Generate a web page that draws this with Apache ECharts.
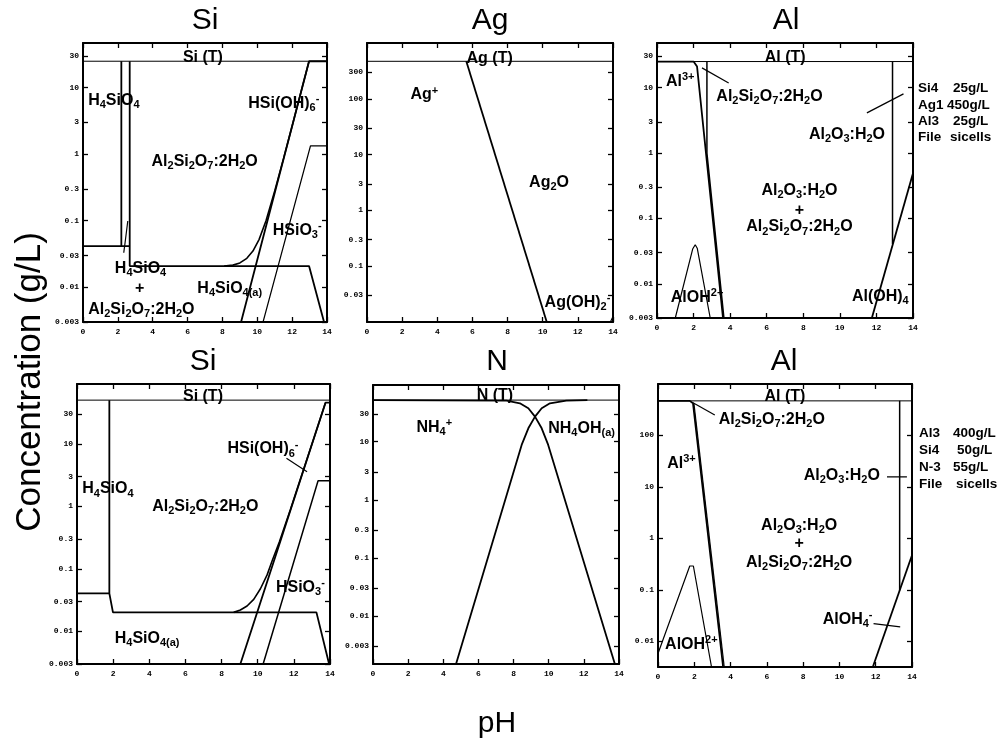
<!DOCTYPE html>
<html>
<head>
<meta charset="utf-8">
<script src="https://cdn.jsdelivr.net/npm/echarts@6.0.0/dist/echarts.min.js"></script>
<style>
html,body{margin:0;padding:0;background:#fff;}
#chart{width:1003px;height:746px;}
</style>
</head>
<body>
<div id="chart"></div>
<script>
// ---------------- DATA ----------------
// tick labels (concentration, g/L)
const ticksHalfDecade = [0.003, 0.01, 0.03, 0.1, 0.3, 1, 3, 10, 30];
const ticksAg = [0.03, 0.1, 0.3, 1, 3, 10, 30, 100, 300];
const ticksDecade = [0.01, 0.1, 1, 10, 100];
const pHRange = [0, 14];

// axis ranges (concentration, g/L)
const rangeSi25 = [0.003, 47];
const rangeAg450 = [0.01, 1000];
const rangeAl25 = [0.003, 48];
const rangeSi50 = [0.003, 90.6];
const rangeN55 = [0.00149, 94.6];
const rangeAl400 = [0.00316, 1000];

// Panel 1 : Si, 25 g/L
const si1Total = [[0, 25], [14, 25]];
const si1Floor = [[0, 0.0415], [2.68, 0.0415]];
const si1Edge = [[2.2, 25], [2.2, 0.0415]];
const si1H4SiO4a = [[2.68, 25], [2.68, 0.0208], [12.97, 0.0208], [13.83, 0.003]];
const si1Pointer = [[2.34, 0.033], [2.57, 0.099]];
const si1HSiOH6 = [[9.07, 0.003], [12.97, 25], [14, 25]];
const si1Dissolved = [[8.1, 0.0208], [8.6, 0.0215], [9.0, 0.0232], [9.4, 0.0272], [9.75, 0.035], [10.1, 0.052], [10.5, 0.1], [11.0, 0.28], [11.5, 0.85], [12.0, 2.66], [12.5, 8.45], [12.97, 25]];
const si1HSiO3 = [[10.33, 0.003], [13.05, 1.33], [14, 1.33]];
const si1Labels = [
  [6.88, 28.6, 'Si (T)'], [1.77, 6.47, 'H_4SiO_4'], [11.52, 5.83, 'HSi(OH)_6^-'],
  [6.98, 0.78, 'Al_2Si_2O_7:2H_2O'], [12.29, 0.0718, 'HSiO_3^-'], [3.3, 0.019, 'H_4SiO_4'],
  [3.25, 0.0095, '+'], [3.35, 0.00466, 'Al_2Si_2O_7:2H_2O'], [8.42, 0.0096, 'H_4SiO_{4(a)}']
];

// Panel 2 : Ag, 450 g/L
const ag2Total = [[0, 470], [14, 470]];
const ag2Boundary = [[5.65, 470], [10.23, 0.01]];
const ag2AgOH2 = [[13.85, 0.01], [14, 0.0125]];
const ag2Labels = [
  [6.98, 520, 'Ag (T)'], [3.26, 117, 'Ag^+'], [10.36, 3.16, 'Ag_2O'], [11.98, 0.0221, 'Ag(OH)_2^-']
];

// Panel 3 : Al, 25 g/L
const al3Total = [[0, 25], [14, 25]];
const al3Al3plus = [[0, 25], [2.0, 25], [2.19, 21], [3.61, 0.003]];
const al3KaoliniteEdge = [[2.73, 25], [2.73, 1.0], [3.66, 0.003]];
const al3Pointer = [[2.46, 20], [3.92, 11.7]];
const al3AlOH = [[1.0, 0.003], [1.95, 0.034], [2.09, 0.0396], [2.2, 0.035], [2.91, 0.003]];
const al3GibbsiteEdge = [[12.88, 25], [12.88, 0.0405]];
const al3AlOH4 = [[11.75, 0.003], [14, 0.49]];
const al3Pointer2 = [[11.48, 4.1], [13.48, 8.0]];
const al3Labels = [
  [7.01, 29.2, 'Al (T)'], [1.27, 12.4, 'Al^{3+}'], [6.15, 7.33, 'Al_2Si_2O_7:2H_2O'],
  [10.39, 1.9, 'Al_2O_3:H_2O'], [7.79, 0.267, 'Al_2O_3:H_2O'], [7.79, 0.133, '+'],
  [7.79, 0.0738, 'Al_2Si_2O_7:2H_2O'], [2.19, 0.00624, 'AlOH^{2+}'], [12.21, 0.0063, 'Al(OH)_4']
];

// Panel 4 : Si, 50 g/L
const si4Total = [[0, 50], [14, 50]];
const si4Floor = [[0, 0.0405], [1.79, 0.0405]];
const si4H4SiO4a = [[1.79, 50], [1.79, 0.0405], [1.99, 0.0201], [13.25, 0.0201], [13.95, 0.003]];
const si4HSiOH6 = [[9.04, 0.003], [13.75, 45.5], [14, 45.5]];
const si4Dissolved = [[8.67, 0.0201], [9.04, 0.0219], [9.41, 0.0254], [9.78, 0.0325], [10.15, 0.048], [10.52, 0.08], [10.8, 0.135], [11.2, 0.27], [11.8, 0.87], [12.5, 3.6], [13.2, 14.9], [13.75, 45.5]];
const si4HSiO3 = [[10.3, 0.003], [13.34, 2.57], [14, 2.57]];
const si4Pointer = [[11.59, 5.86], [12.73, 3.58]];
const si4Labels = [
  [6.97, 56.8, 'Si (T)'], [10.29, 8.26, 'HSi(OH)_6^-'], [1.71, 1.89, 'H_4SiO_4'],
  [7.1, 0.99, 'Al_2Si_2O_7:2H_2O'], [12.36, 0.0502, 'HSiO_3^-'], [3.88, 0.0077, 'H_4SiO_{4(a)}']
];

// Panel 5 : N, 55 g/L
const n5Total = [[0, 52], [14, 52]];
const n5NH4 = [[0, 52], [7.6, 51], [8.36, 45.8], [8.84, 37.6], [9.22, 27], [9.6, 17], [9.97, 8.8], [13.76, 0.0015]];
const n5NH4OH = [[4.73, 0.0015], [8.46, 8.8], [8.84, 17], [9.22, 27], [9.6, 37.6], [10.07, 45.8], [11.0, 51], [12.2, 52]];
const n5Labels = [
  [6.94, 61.7, 'N (T)'], [3.49, 17.6, 'NH_4^+'], [11.87, 16.6, 'NH_4OH_{(a)}']
];

// Panel 6 : Al, 400 g/L
const al6Total = [[0, 470], [14, 470]];
const al6Al3plus = [[0, 470], [1.75, 470], [1.93, 421], [3.59, 0.00316]];
const al6Al3plusEdge = [[1.98, 421], [3.65, 0.00316]];
const al6Pointer = [[1.93, 433], [3.13, 249]];
const al6AlOH = [[0, 0.0058], [1.75, 0.29], [1.84, 0.315], [1.95, 0.29], [2.95, 0.00316]];
const al6GibbsiteEdge = [[13.32, 470], [13.32, 0.097]];
const al6AlOH4 = [[11.84, 0.00316], [14, 0.471]];
const al6Pointer2 = [[12.62, 15.7], [13.72, 15.7]];
const al6Pointer3 = [[11.88, 0.022], [13.35, 0.019]];
const al6Labels = [
  [7.0, 566, 'Al (T)'], [6.27, 200, 'Al_2Si_2O_7:2H_2O'], [1.29, 28.6, 'Al^{3+}'],
  [10.13, 16.4, 'Al_2O_3:H_2O'], [7.78, 1.81, 'Al_2O_3:H_2O'], [7.78, 0.796, '+'],
  [7.78, 0.336, 'Al_2Si_2O_7:2H_2O'], [10.45, 0.0265, 'AlOH_4^-'], [1.84, 0.0087, 'AlOH^{2+}']
];

// panel titles and side notes
const panelTitles = ['Si', 'Ag', 'Al', 'Si', 'N', 'Al'];
const notesTop = [['Si4', '25g/L'], ['Ag1', '450g/L'], ['Al3', '25g/L'], ['File', 'sicells']];
const notesBottom = [['Al3', '400g/L'], ['Si4', '50g/L'], ['N-3', '55g/L'], ['File', 'sicells']];
const yTitle = 'Concentration (g/L)';
const xTitle = 'pH';

// ---------------- LAYOUT / STYLE ----------------
const SANS = "'Liberation Sans', Arial, sans-serif";
const MONO = "'Liberation Mono', 'DejaVu Sans Mono', monospace";
const L10 = Math.log10;

const panels = [
  { rect: [83, 43, 244, 279], range: rangeSi25, ticks: ticksHalfDecade, titleXY: [205, 21],
    lines: [[si1Total, 1], [si1Floor, 1.8], [si1Edge, 1.8], [si1H4SiO4a, 1.8], [si1Pointer, 1.2], [si1HSiOH6, 1.8], [si1Dissolved, 1.6], [si1HSiO3, 1.2]],
    labels: si1Labels },
  { rect: [367, 43, 246, 279], range: rangeAg450, ticks: ticksAg, titleXY: [490, 21],
    lines: [[ag2Total, 1], [ag2Boundary, 1.8], [ag2AgOH2, 1.2]],
    labels: ag2Labels },
  { rect: [657, 43, 256, 275], range: rangeAl25, ticks: ticksHalfDecade, titleXY: [786, 21],
    lines: [[al3Total, 1], [al3Al3plus, 1.8], [al3KaoliniteEdge, 1.5], [al3Pointer, 1.2], [al3AlOH, 1.2], [al3GibbsiteEdge, 1.5], [al3AlOH4, 1.8], [al3Pointer2, 1.2]],
    labels: al3Labels },
  { rect: [77, 384, 253, 280], range: rangeSi50, ticks: ticksHalfDecade, titleXY: [203, 362],
    lines: [[si4Total, 1], [si4Floor, 1.8], [si4H4SiO4a, 1.8], [si4HSiOH6, 1.8], [si4Dissolved, 1.6], [si4HSiO3, 1.5], [si4Pointer, 1.2]],
    labels: si4Labels },
  { rect: [373, 385, 246, 279], range: rangeN55, ticks: ticksHalfDecade, titleXY: [497, 362],
    lines: [[n5Total, 1], [n5NH4, 1.8], [n5NH4OH, 1.8]],
    labels: n5Labels },
  { rect: [658, 384, 254, 283], range: rangeAl400, ticks: ticksDecade, titleXY: [784, 362],
    lines: [[al6Total, 1], [al6Al3plus, 1.8], [al6Al3plusEdge, 1.2], [al6Pointer, 1.2], [al6AlOH, 1.2], [al6GibbsiteEdge, 1.5], [al6AlOH4, 1.8], [al6Pointer2, 1.2], [al6Pointer3, 1.2]],
    labels: al6Labels }
];

function toRich(s) {
  let out = '', buf = '', i = 0;
  const flush = () => { if (buf) { out += '{n|' + buf + '}'; buf = ''; } };
  while (i < s.length) {
    const c = s[i];
    if (c === '_' || c === '^') {
      flush();
      let t;
      if (s[i + 1] === '{') { const j = s.indexOf('}', i + 2); t = s.slice(i + 2, j); i = j + 1; }
      else { t = s[i + 1]; i += 2; }
      out += '{' + (c === '_' ? 'b' : 'p') + '|' + t + '}';
    } else { buf += c; i++; }
  }
  flush();
  return out;
}

const txt = { color: '#000', textBorderWidth: 0, textBorderColor: 'transparent', textShadowBlur: 0, opacity: 1 };
const richStyles = {
  n: Object.assign({ fontSize: 16, fontWeight: 'bold', fontFamily: SANS, lineHeight: 20 }, txt),
  b: Object.assign({ fontSize: 11, fontWeight: 'bold', fontFamily: SANS, lineHeight: 10, verticalAlign: 'bottom' }, txt),
  p: Object.assign({ fontSize: 11, fontWeight: 'bold', fontFamily: SANS, lineHeight: 10, verticalAlign: 'top' }, txt)
};

const fmtConc = v => String(Number(Math.pow(10, v).toPrecision(2)));

const grid = [], xAxis = [], yAxis = [], series = [];
const axisLineStyle = { color: '#000', width: 2 };

panels.forEach((p, i) => {
  grid.push({ left: p.rect[0], top: p.rect[1], width: p.rect[2], height: p.rect[3], containLabel: false });
  const tickVals = p.ticks.map(L10);
  ['bottom', 'top'].forEach((pos, k) => {
    xAxis.push({
      gridIndex: i, type: 'value', position: pos, min: pHRange[0], max: pHRange[1], interval: 2,
      axisLine: { show: true, onZero: false, lineStyle: axisLineStyle },
      axisTick: { show: true, inside: true, length: 5, lineStyle: { color: '#000', width: 1.3 } },
      axisLabel: { show: k === 0, color: '#000', fontFamily: MONO, fontWeight: 'bold', fontSize: 8, margin: 6 },
      splitLine: { show: false }
    });
  });
  ['left', 'right'].forEach((pos, k) => {
    yAxis.push({
      gridIndex: i, type: 'value', position: pos, min: L10(p.range[0]), max: L10(p.range[1]),
      axisLine: { show: true, onZero: false, lineStyle: axisLineStyle },
      axisTick: { show: true, inside: true, length: 5, customValues: tickVals, lineStyle: { color: '#000', width: 1.3 } },
      axisLabel: { show: k === 0, customValues: tickVals, formatter: fmtConc, color: '#000', fontFamily: MONO, fontWeight: 'bold', fontSize: 8, margin: 4 },
      splitLine: { show: false }
    });
  });
  p.lines.forEach(([d, w]) => {
    series.push({
      type: 'line', xAxisIndex: 2 * i, yAxisIndex: 2 * i, silent: true, showSymbol: false, symbol: 'none',
      data: d.map(pt => [pt[0], L10(pt[1])]),
      lineStyle: { color: '#000', width: w }, z: 3
    });
  });
  series.push({
    type: 'scatter', xAxisIndex: 2 * i, yAxisIndex: 2 * i, silent: true, symbolSize: 0, z: 5,
    itemStyle: { color: '#000' },
    data: p.labels.map(l => ({ value: [l[0], L10(l[1])], label: { formatter: toRich(l[2]) } })),
    label: Object.assign({ show: true, position: 'inside', align: 'center', verticalAlign: 'middle', rich: richStyles }, txt)
  });
});

const graphic = [];
panels.forEach((p, i) => {
  graphic.push({ type: 'text', x: p.titleXY[0], y: p.titleXY[1], silent: true,
    style: { text: panelTitles[i], fontSize: 30, fontFamily: SANS, fill: '#000', align: 'center', verticalAlign: 'middle' } });
});
function addNotes(notes, x1, x2s, y0, dy) {
  notes.forEach((r, k) => {
    graphic.push({ type: 'text', x: x1, y: y0 + k * dy, silent: true,
      style: { text: r[0], fontSize: 13.5, fontWeight: 'bold', fontFamily: SANS, fill: '#000', align: 'left', verticalAlign: 'middle' } });
    graphic.push({ type: 'text', x: x2s[k], y: y0 + k * dy, silent: true,
      style: { text: r[1], fontSize: 13.5, fontWeight: 'bold', fontFamily: SANS, fill: '#000', align: 'left', verticalAlign: 'middle' } });
  });
}
addNotes(notesTop, 918, [953, 947, 953, 950], 88.5, 16.4);
addNotes(notesBottom, 919, [953, 957, 953, 956], 433, 17);
graphic.push({ type: 'text', x: 30, y: 382, rotation: Math.PI / 2, silent: true,
  style: { text: yTitle, fontSize: 35, fontFamily: SANS, fill: '#000', align: 'center', verticalAlign: 'middle' } });
graphic.push({ type: 'text', x: 497, y: 724, silent: true,
  style: { text: xTitle, fontSize: 30, fontFamily: SANS, fill: '#000', align: 'center', verticalAlign: 'middle' } });

const chart = echarts.init(document.getElementById('chart'), null, { renderer: 'canvas' });
chart.setOption({
  backgroundColor: '#fff',
  animation: false,
  grid, xAxis, yAxis, series, graphic
});
</script>
</body>
</html>
